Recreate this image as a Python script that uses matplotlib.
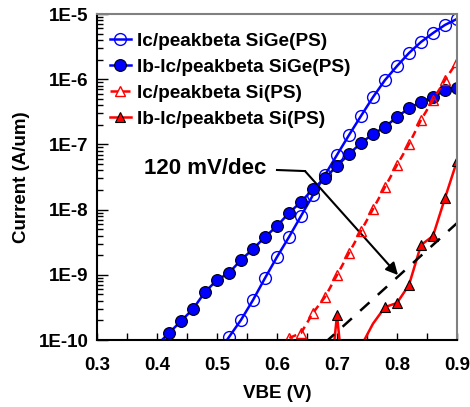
import numpy as np
import matplotlib
matplotlib.use("Agg")
import matplotlib.pyplot as plt
from matplotlib.patches import FancyArrowPatch
from matplotlib.ticker import LogLocator, FuncFormatter, MultipleLocator, NullFormatter

plt.rcParams['font.family'] = ['Liberation Sans', 'DejaVu Sans']
plt.rcParams['font.weight'] = 'bold'

# SiGe Ic/peakbeta (open blue circles), first point is line only
sige_ic_v = [0.50, 0.52, 0.54, 0.56, 0.58, 0.60, 0.62, 0.64, 0.66, 0.68, 0.70,
             0.72, 0.74, 0.76, 0.78, 0.80, 0.82, 0.84, 0.86, 0.88, 0.90]
sige_ic_i = [6.0e-11, 1.11e-10, 2.03e-10, 4.1e-10, 8.9e-10, 1.88e-9, 3.8e-9, 7.98e-9,
             1.67e-8, 3.4e-8, 6.9e-8, 1.39e-7, 2.73e-7, 5.3e-7, 9.7e-7, 1.59e-6,
             2.52e-6, 3.72e-6, 5.1e-6, 6.8e-6, 8.4e-6]

# SiGe Ib-Ic/peakbeta (filled blue circles), first point is line only
sige_ib_v = [0.40, 0.42, 0.44, 0.46, 0.48, 0.50, 0.52, 0.54, 0.56, 0.58, 0.60, 0.62,
             0.64, 0.66, 0.68, 0.70, 0.72, 0.74, 0.76, 0.78, 0.80, 0.82, 0.84,
             0.86, 0.88, 0.90]
sige_ib_i = [8.4e-11, 1.28e-10, 1.95e-10, 2.99e-10, 5.45e-10, 8.3e-10, 1.07e-9, 1.69e-9,
             2.49e-9, 3.8e-9, 5.6e-9, 8.9e-9, 1.31e-8, 2.07e-8, 3.05e-8, 4.67e-8,
             7.1e-8, 1.05e-7, 1.44e-7, 1.85e-7, 2.63e-7, 3.6e-7, 4.47e-7, 5.3e-7,
             6.8e-7, 7.3e-7]

# Si Ic/peakbeta (open red triangles), first point is line only
si_ic_v = [0.60, 0.62, 0.64, 0.66, 0.68, 0.70, 0.72, 0.74, 0.76, 0.78, 0.80,
           0.82, 0.84, 0.86, 0.88, 0.90]
si_ic_i = [5.0e-11, 1.07e-10, 1.28e-10, 2.6e-10, 4.57e-10, 9.9e-10, 2.16e-9, 4.7e-9,
           1.02e-8, 2.22e-8, 4.83e-8, 1.01e-7, 2.37e-7, 4.8e-7, 9.7e-7, 1.84e-6]

# Si Ib-Ic/peakbeta (filled red triangles)
si_ib_v = [0.69, 0.70, 0.71, 0.74, 0.76, 0.78, 0.80, 0.82, 0.84, 0.86, 0.88, 0.90]
si_ib_i = [3.0e-11, 2.42e-10, 3.0e-11, 8.0e-11, 1.78e-10, 3.2e-10, 3.7e-10, 6.98e-10,
           2.86e-9, 3.94e-9, 1.5e-8, 5.56e-8]
si_ib_marks = [1, 5, 6, 7, 8, 9, 10, 11]

# 120 mV/dec reference line
ref_v = [0.68, 0.90]
ref_i = [9.1e-11, 6.2e-9]

blue = '#0000ff'
red = '#ff0000'

fig = plt.figure(figsize=(4.7, 4.07), dpi=100)
ax = fig.add_axes([0.2064, 0.1646, 0.7659, 0.801])

ax.plot(sige_ic_v, sige_ic_i, color=blue, lw=1.8, marker='o', ms=8.5,
        mfc='none', mec=blue, mew=1.0, markevery=slice(1, None),
        label='Ic/peakbeta SiGe(PS)')
ax.plot(sige_ib_v, sige_ib_i, color=blue, lw=1.8, marker='o', ms=8.5,
        mfc=blue, mec='black', mew=0.8, markevery=slice(1, None),
        label='Ib-Ic/peakbeta SiGe(PS)')
ax.plot(si_ic_v, si_ic_i, color=red, lw=1.8, ls=(0, (3, 2)), marker='^', ms=7.5,
        mfc='none', mec=red, mew=1.0, markevery=slice(1, None),
        label='Ic/peakbeta Si(PS)')
ax.plot(si_ib_v, si_ib_i, color=red, lw=1.8, marker='^', ms=7.5,
        mfc=red, mec='black', mew=0.8, markevery=si_ib_marks,
        label='Ib-Ic/peakbeta Si(PS)')

ax.plot(ref_v, ref_i, color='black', lw=1.8, ls=(0, (5, 4.5)))

# annotation with leader line and arrow
ax.plot([0.60, 0.6467], [4.05e-8, 3.9e-8], color='black', lw=1.5)
arrow = FancyArrowPatch((0.6467, 3.9e-8), (0.8017, 9.9e-10), arrowstyle='-|>',
                        lw=1.5, color='black', mutation_scale=18,
                        shrinkA=0, shrinkB=0)
ax.add_patch(arrow)
ax.text(0.378, 4.2e-8, '120 mV/dec', fontsize=16, fontweight='bold',
        ha='left', va='center')

ax.set_yscale('log')
ax.set_xlim(0.3, 0.9)
ax.set_ylim(1e-10, 1e-5)

ax.xaxis.set_major_locator(MultipleLocator(0.1))
ax.xaxis.set_minor_locator(MultipleLocator(0.05))
ax.xaxis.set_major_formatter(FuncFormatter(lambda v, p: f'{v:.1f}'))
ax.xaxis.set_minor_formatter(NullFormatter())
ax.yaxis.set_major_locator(LogLocator(base=10))
ax.yaxis.set_minor_locator(LogLocator(base=10, subs=np.arange(2, 10)))
ax.yaxis.set_minor_formatter(NullFormatter())
ax.yaxis.set_major_formatter(FuncFormatter(lambda v, p: f'1E{int(round(np.log10(v)))}'))

ax.tick_params(axis='both', which='both', direction='in', top=False, right=False,
               labelsize=13.5, width=1.0)
ax.tick_params(axis='x', which='both', length=5, pad=12)
ax.tick_params(axis='y', which='major', length=8, pad=6)
ax.tick_params(axis='y', which='minor', length=4)
for lbl in ax.get_xticklabels() + ax.get_yticklabels():
    lbl.set_fontweight('bold')

ax.spines['left'].set_linewidth(1.5)
ax.spines['bottom'].set_linewidth(1.5)
ax.spines['top'].set_color('#808080')
ax.spines['right'].set_color('#808080')
ax.spines['top'].set_linewidth(1.5)
ax.spines['right'].set_linewidth(1.5)

ax.set_xlabel('VBE (V)', fontsize=13.5, fontweight='bold', labelpad=8)
ax.set_ylabel('Current (A/um)', fontsize=13.5, fontweight='bold', labelpad=6)

ax.legend(loc='upper left', bbox_to_anchor=(0.035, 0.944), frameon=False,
          handlelength=1.1, handletextpad=0.35, labelspacing=0.46,
          borderpad=0, borderaxespad=0, numpoints=1,
          prop={'weight': 'bold', 'size': 13.7})

fig.savefig('out.png', dpi=100)
